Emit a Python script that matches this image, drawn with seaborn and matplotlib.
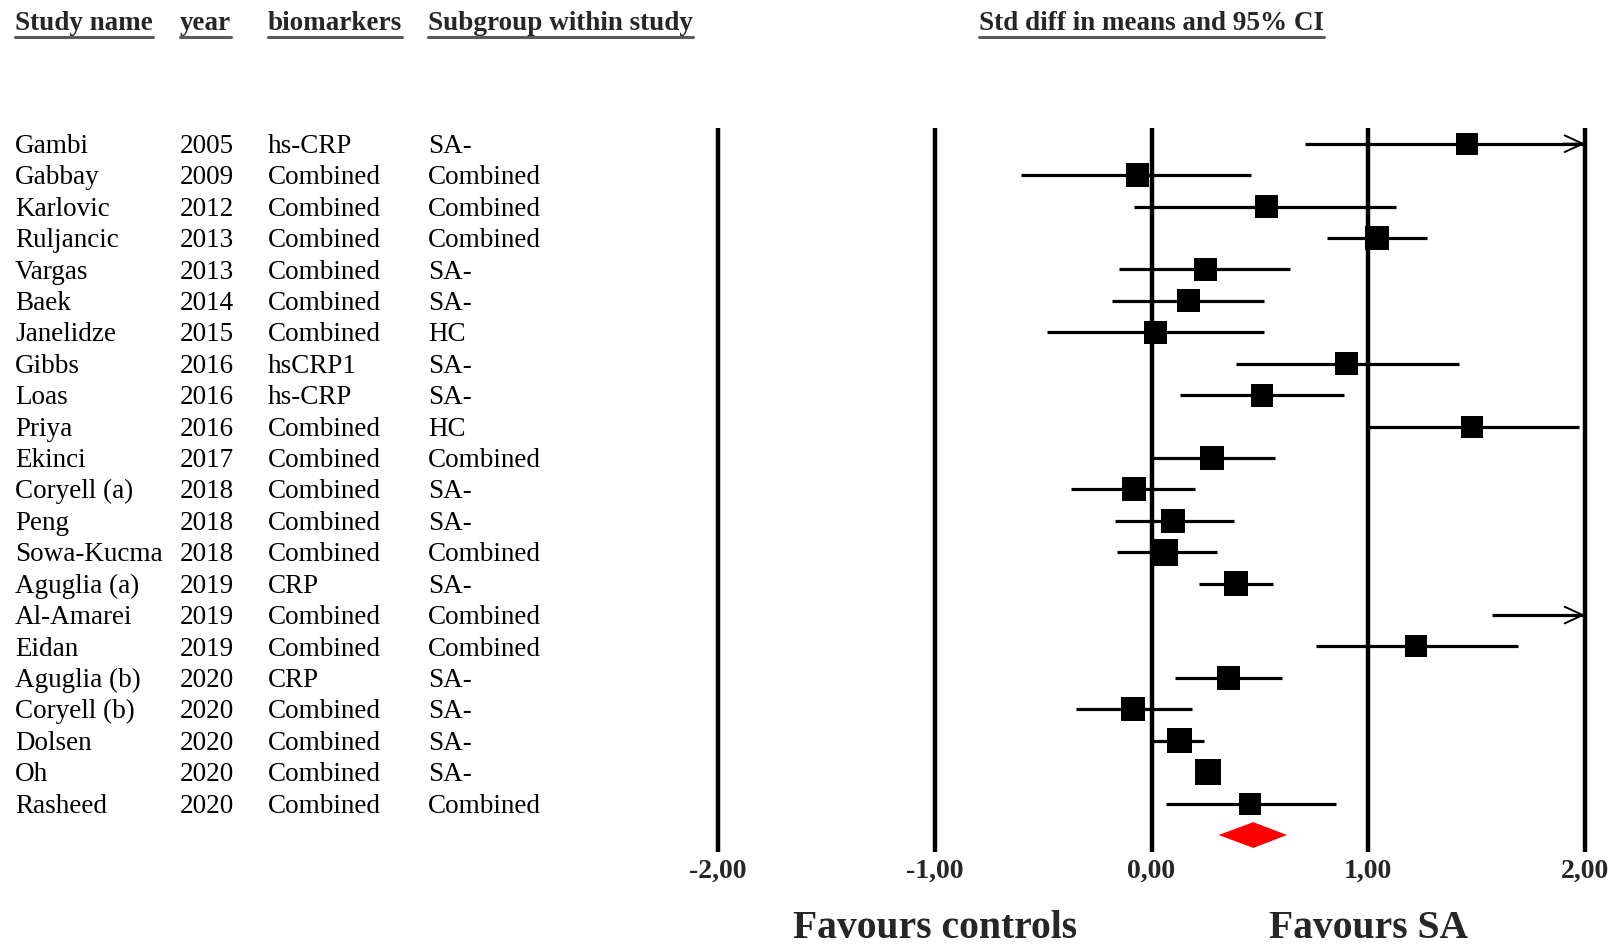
import numpy as np
import pandas as pd
import seaborn as sns
import matplotlib.pyplot as plt
from matplotlib import transforms
from matplotlib.lines import Line2D

# Study table
studies = ["Gambi", "Gabbay", "Karlovic", "Ruljancic", "Vargas", "Baek", "Janelidze",
           "Gibbs", "Loas", "Priya", "Ekinci", "Coryell (a)", "Peng", "Sowa-Kucma",
           "Aguglia (a)", "Al-Amarei", "Eidan", "Aguglia (b)", "Coryell (b)", "Dolsen",
           "Oh", "Rasheed"]
years = [2005, 2009, 2012, 2013, 2013, 2014, 2015, 2016, 2016, 2016, 2017, 2018,
         2018, 2018, 2019, 2019, 2019, 2020, 2020, 2020, 2020, 2020]
biomarkers = ["hs-CRP", "Combined", "Combined", "Combined", "Combined", "Combined",
              "Combined", "hsCRP1", "hs-CRP", "Combined", "Combined", "Combined",
              "Combined", "Combined", "CRP", "Combined", "Combined", "CRP", "Combined",
              "Combined", "Combined", "Combined"]
subgroups = ["SA-", "Combined", "Combined", "Combined", "SA-", "SA-", "HC", "SA-", "SA-",
             "HC", "Combined", "SA-", "SA-", "Combined", "SA-", "Combined", "Combined",
             "SA-", "SA-", "SA-", "SA-", "Combined"]

# Std diff in means with 95% CI
effect = [1.455, -0.065, 0.53, 1.04, 0.25, 0.17, 0.02, 0.90, 0.51, 1.48, 0.28, -0.08,
          0.10, 0.06, 0.39, 2.50, 1.22, 0.355, -0.085, 0.13, 0.26, 0.455]
lower = [0.71, -0.60, -0.08, 0.81, -0.15, -0.18, -0.48, 0.39, 0.13, 1.00, 0.00, -0.37,
         -0.17, -0.16, 0.22, 1.57, 0.76, 0.11, -0.35, 0.00, 0.21, 0.065]
upper = [2.20, 0.46, 1.13, 1.27, 0.64, 0.52, 0.52, 1.42, 0.89, 1.97, 0.57, 0.20,
         0.38, 0.30, 0.56, 3.40, 1.69, 0.60, 0.185, 0.24, 0.31, 0.85]
# relative study weight (box size)
weight = [1.00, 1.08, 1.04, 1.12, 1.04, 1.04, 1.04, 1.04, 1.04, 1.00, 1.08, 1.08,
          1.08, 1.22, 1.12, 1.00, 1.00, 1.08, 1.08, 1.12, 1.18, 1.00]

# pooled estimate
pooled_lo, pooled_mid, pooled_hi = 0.31, 0.47, 0.625

ticks = [-2, -1, 0, 1, 2]
tick_labels = ["-2,00", "-1,00", "0,00", "1,00", "2,00"]

sns.set_style("white")
plt.rcParams['font.family'] = ['Liberation Serif', 'DejaVu Serif']

df = pd.DataFrame({"study": studies, "year": years, "bio": biomarkers, "sub": subgroups,
                   "effect": effect, "lower": lower, "upper": upper, "weight": weight})
df["row"] = np.arange(len(df))
n = len(df)

W, H = 1611, 946
fig = plt.figure(figsize=(W / 100, H / 100), dpi=100)
ax = fig.add_axes([696.3 / W, 1 - 852 / H, (1606.7 - 696.3) / W, (852 - 128) / H])
ax.set_xlim(-2.1, 2.1)
ax.set_ylim(n + 0.54, -0.5)
for s in ax.spines.values():
    s.set_visible(False)
ax.set_yticks([])

# vertical reference lines
for t in ticks:
    ax.axvline(t, color="black", lw=3.2, zorder=1)

# confidence intervals
for _, r in df.iterrows():
    lo = max(r["lower"], -2)
    hi = min(r["upper"], 2)
    ax.hlines(r["row"], lo, hi, color="black", lw=2.3, zorder=2)
    if r["upper"] > 2:
        ax.annotate("", xy=(2, r["row"]), xytext=(1.9, r["row"]),
                    arrowprops=dict(arrowstyle="->,head_length=0.65,head_width=0.3",
                                    lw=1.4, color="black", mutation_scale=20,
                                    shrinkA=0, shrinkB=0), zorder=3)

# study boxes
side_px = 22 * df["weight"].to_numpy()
sizes = (side_px * 0.72) ** 2
sns.scatterplot(data=df, x="effect", y="row", marker="s", color="black",
                s=sizes, linewidth=0, legend=False, ax=ax, zorder=4)
ax.set_xlabel("")
ax.set_ylabel("")

# pooled diamond
dh = 0.41
ax.fill([pooled_lo, pooled_mid, pooled_hi, pooled_mid], [n, n - dh, n, n + dh],
        color="red", lw=0, zorder=5)

ax.set_xticks(ticks)
ax.set_xticklabels(tick_labels, fontsize=20, fontweight="bold")
ax.tick_params(axis="x", length=0, pad=5)

# left text columns
trans = transforms.blended_transform_factory(fig.transFigure, ax.transData)
col_x = [15 / W, 180 / W, 268 / W, 428 / W]
for _, r in df.iterrows():
    for x, key in zip(col_x, ["study", "year", "bio", "sub"]):
        ax.text(x, r["row"] + 0.29, str(r[key]), transform=trans, fontsize=19.5,
                ha="left", va="baseline", color="black", clip_on=False)

# headers
head_y = 1 - 30 / H
headers = []
for x, lab in zip(col_x, ["Study name", "year", "biomarkers", "Subgroup within study"]):
    headers.append(fig.text(x, head_y, lab, fontsize=19.5, fontweight="bold",
                            ha="left", va="baseline"))
htrans = transforms.blended_transform_factory(ax.transData, fig.transFigure)
headers.append(ax.text(0, head_y, "Std diff in means and 95% CI", transform=htrans,
                       fontsize=19.5, fontweight="bold", ha="center", va="baseline"))

fig.canvas.draw()
ul_y = 1 - 37 / H
for t in headers:
    bb = t.get_window_extent()
    fig.add_artist(Line2D([bb.x0 / W, bb.x1 / W], [ul_y, ul_y], color="#5a5a5a",
                          lw=2.2, transform=fig.transFigure))

# favours labels
fav_y = 1 - 938 / H
ax.text(-1, fav_y, "Favours controls", transform=htrans, fontsize=28.5,
        fontweight="bold", ha="center", va="baseline")
ax.text(1, fav_y, "Favours SA", transform=htrans, fontsize=28.5,
        fontweight="bold", ha="center", va="baseline")

fig.savefig("out.png", dpi=100)
